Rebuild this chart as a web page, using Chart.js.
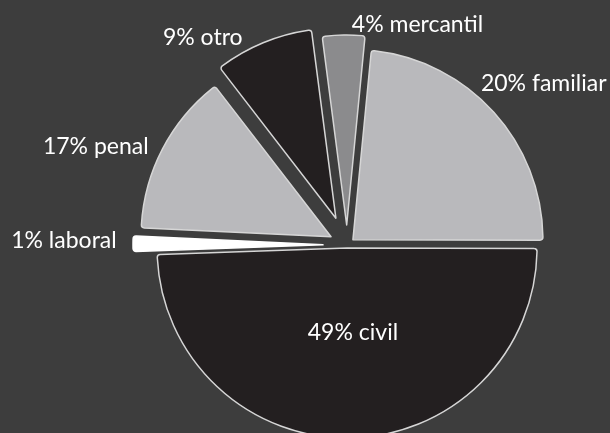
<!DOCTYPE html>
<html>
<head>
<meta charset="utf-8">
<script src="https://cdn.jsdelivr.net/npm/chart.js@4.4.1/dist/chart.umd.min.js"></script>
<style>
  html, body { margin: 0; padding: 0; background: #3d3d3d; }
  #wrap { width: 610px; height: 433px; }
</style>
</head>
<body>
<div id="wrap"><canvas id="mypie" width="610" height="433"></canvas></div>
<script>
// slices clockwise, starting at 9 o'clock
const categories = ["laboral", "penal", "otro", "mercantil", "familiar", "civil"];
// share of the circle each slice takes in the picture
const sliceShares = [1.3, 13.8, 8.4, 3.6, 23.5, 49.4];
// percentages printed on the labels
const labelPercents = [1, 17, 9, 4, 20, 49];

const sliceColors = ['#ffffff', '#b9b9bc', '#231f20', '#8b8b8d', '#b9b9bc', '#231f20'];
const edgeColors = ['#ffffff', '#d6d6d6', '#d6d6d6', '#d6d6d6', '#d6d6d6', '#d6d6d6'];
// how far (px) each slice is pulled out of the centre
const pushOut = [24, 18, 29, 20, 8, 3];
// label spot: angle in degrees (0 = top, clockwise) and distance as a factor of the radius
const labelSpots = [[-89.2, 1.49], [-68.6, 1.42], [-34.8, 1.33], [17.7, 1.22], [50.6, 1.34], [176.1, 0.46]];

// draw the arcs ourselves so each can be pushed out without chart.js growing its radius
const explodePlugin = {
  id: 'explode',
  beforeDatasetDraw(chart, args) {
    const ctx = chart.ctx;
    args.meta.data.forEach(function (arc, i) {
      const mid = (arc.startAngle + arc.endAngle) / 2;
      ctx.save();
      ctx.translate(Math.cos(mid) * pushOut[i], Math.sin(mid) * pushOut[i]);
      arc.draw(ctx);
      ctx.restore();
    });
    return false;
  }
};

const labelPlugin = {
  id: 'sliceLabels',
  afterDatasetsDraw(chart) {
    const ctx = chart.ctx;
    const arcs = chart.getDatasetMeta(0).data;
    ctx.save();
    ctx.fillStyle = '#ffffff';
    ctx.font = '23px Lato';
    ctx.textAlign = 'center';
    ctx.textBaseline = 'middle';
    arcs.forEach(function (arc, i) {
      const a = labelSpots[i][0] * Math.PI / 180;
      const r = arc.outerRadius * labelSpots[i][1];
      const x = arc.x + Math.sin(a) * r;
      const y = arc.y - Math.cos(a) * r;
      ctx.fillText(labelPercents[i] + '% ' + categories[i], x, y);
    });
    ctx.restore();
  }
};

var ctx = document.getElementById("mypie").getContext("2d");
var myChart = new Chart(ctx, {
  type: 'pie',
  data: {
    labels: categories,
    datasets: [{
      data: sliceShares,
      backgroundColor: sliceColors,
      borderColor: edgeColors,
      borderWidth: 1.5,
      borderRadius: 3,
      borderJoinStyle: 'round'
    }]
  },
  options: {
    responsive: false,
    animation: false,
    rotation: -92,
    radius: 190,
    layout: { padding: { left: 84, right: 0, top: 57, bottom: 0 } },
    plugins: {
      legend: { display: false },
      tooltip: { enabled: false }
    }
  },
  plugins: [explodePlugin, labelPlugin]
});
</script>
</body>
</html>
